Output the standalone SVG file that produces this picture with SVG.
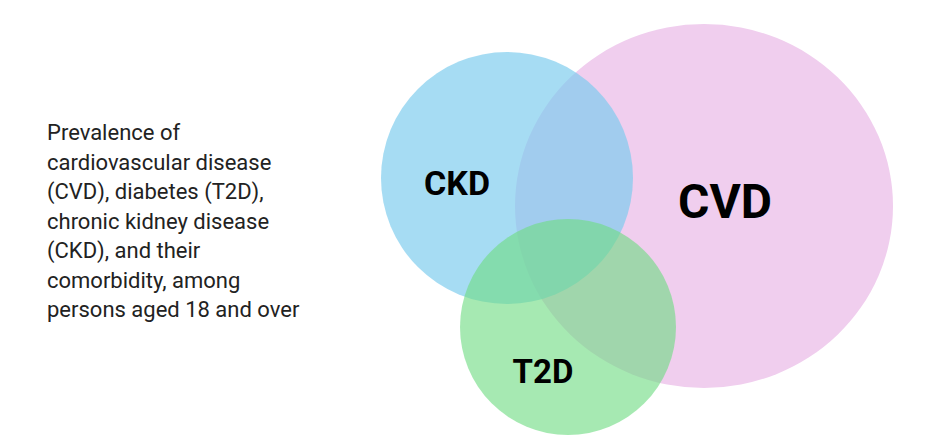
<svg xmlns="http://www.w3.org/2000/svg" width="932" height="446" viewBox="0 0 932 446">
<style>
.lbl{font-family:Roboto,"Liberation Sans",sans-serif;font-weight:bold;fill:#000;text-anchor:middle}
.desc{font-family:Roboto,"Liberation Sans",sans-serif;font-size:22px;fill:#222}
</style>
<rect width="932" height="446" fill="#fff"/>
<g id="cvd"><ellipse cx="704" cy="206" rx="189" ry="182" fill="#f0ceee"/></g>
<g id="ckd"><circle cx="507" cy="178" r="126" fill="#7ccbee" fill-opacity="0.68"/></g>
<g id="t2d"><circle cx="568" cy="327" r="108" fill="#6fdc82" fill-opacity="0.62"/></g>
<g id="connectors"></g>
<text class="lbl" x="457" y="195" font-size="34">CKD</text>
<text class="lbl" x="725" y="218" font-size="48">CVD</text>
<text class="lbl" x="543" y="383" font-size="33">T2D</text>
<text class="desc" x="47" y="140">Prevalence of</text>
<text class="desc" x="47" y="169.5">cardiovascular disease</text>
<text class="desc" x="47" y="199">(CVD), diabetes (T2D),</text>
<text class="desc" x="47" y="228.5">chronic kidney disease</text>
<text class="desc" x="47" y="258">(CKD), and their</text>
<text class="desc" x="47" y="287.5">comorbidity, among</text>
<text class="desc" x="47" y="317">persons aged 18 and over</text>
</svg>
